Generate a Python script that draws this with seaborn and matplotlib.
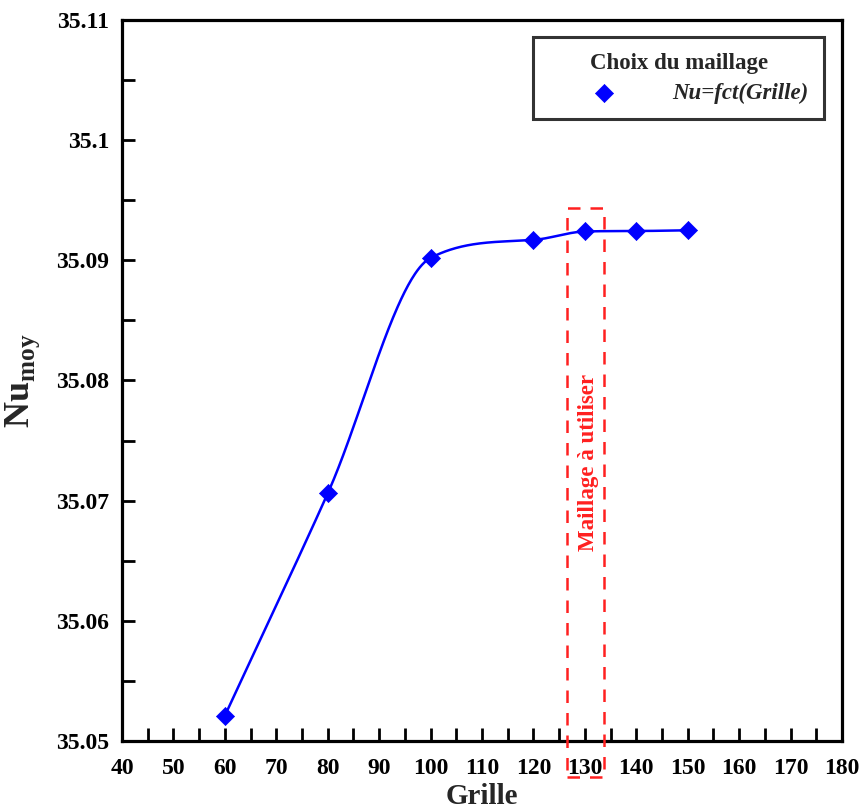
import numpy as np
import pandas as pd
import matplotlib
matplotlib.use("Agg")
import matplotlib.pyplot as plt
from matplotlib.ticker import MultipleLocator, FuncFormatter
from matplotlib.patches import Rectangle
import seaborn as sns

# Mesh sizes and mean Nusselt number
grille = [60, 80, 100, 120, 130, 140, 150]
nu_moy = [35.0521, 35.0706, 35.0902, 35.0917, 35.0924, 35.09244, 35.0925]

x_ticks = [40, 50, 60, 70, 80, 90, 100, 110, 120, 130, 140, 150, 160, 170, 180]
y_ticks = [35.05, 35.06, 35.07, 35.08, 35.09, 35.1, 35.11]

legend_title = "Choix du maillage"
series_label = "Nu=fct(Grille)"
box_label = "Maillage à utiliser"
chosen_range = (126.5, 133.7)


def monotone_spline(x, y, n=400):
    """Fritsch-Carlson monotone cubic Hermite curve through the points."""
    x = np.asarray(x, float)
    y = np.asarray(y, float)
    h = np.diff(x)
    delta = np.diff(y) / h
    m = np.empty_like(y)
    m[0] = delta[0]
    m[-1] = delta[-1]
    m[1:-1] = (delta[:-1] + delta[1:]) / 2
    for k in range(len(delta)):
        if delta[k] == 0:
            m[k] = m[k + 1] = 0.0
            continue
        a = m[k] / delta[k]
        b = m[k + 1] / delta[k]
        s = a * a + b * b
        if s > 9:
            t = 3 / np.sqrt(s)
            m[k] = t * a * delta[k]
            m[k + 1] = t * b * delta[k]
    xs = np.linspace(x[0], x[-1], n)
    idx = np.clip(np.searchsorted(x, xs, side="right") - 1, 0, len(x) - 2)
    t = (xs - x[idx]) / h[idx]
    h00 = 2 * t ** 3 - 3 * t ** 2 + 1
    h10 = t ** 3 - 2 * t ** 2 + t
    h01 = -2 * t ** 3 + 3 * t ** 2
    h11 = t ** 3 - t ** 2
    ys = (h00 * y[idx] + h10 * h[idx] * m[idx]
          + h01 * y[idx + 1] + h11 * h[idx] * m[idx + 1])
    return xs, ys


sns.set_theme(style="white")
plt.rcParams["font.family"] = ["Liberation Serif", "DejaVu Serif"]
plt.rcParams["font.weight"] = "bold"
plt.rcParams["mathtext.fontset"] = "custom"
plt.rcParams["mathtext.rm"] = "Liberation Serif:bold"
plt.rcParams["mathtext.bf"] = "Liberation Serif:bold"

fig = plt.figure(figsize=(8.62, 8.10), dpi=100)
ax = fig.add_axes([0.1415, 0.0852, 0.8353, 0.8901])

points = pd.DataFrame({"Grille": grille, "Nu": nu_moy})
sx, sy = monotone_spline(grille, nu_moy)
curve = pd.DataFrame({"Grille": sx, "Nu": sy})

sns.lineplot(data=curve, x="Grille", y="Nu", ax=ax, color="#0000FF",
             linewidth=1.8, legend=False, zorder=3)
sns.scatterplot(data=points, x="Grille", y="Nu", ax=ax, marker="D",
                color="#0000FF", s=85, edgecolor="#0000FF", linewidth=0.5,
                label=series_label, zorder=4)

ax.set_xlim(40, 180)
ax.set_ylim(35.05, 35.11)
ax.set_xticks(x_ticks)
ax.set_yticks(y_ticks)
ax.xaxis.set_minor_locator(MultipleLocator(5))
ax.yaxis.set_minor_locator(MultipleLocator(0.005))
ax.yaxis.set_major_formatter(FuncFormatter(lambda v, p: f"{v:g}"))
ax.xaxis.set_major_formatter(FuncFormatter(lambda v, p: f"{v:g}"))

ax.tick_params(axis="both", which="both", direction="in", length=9.5,
               width=2.0, color="black", bottom=True, left=True,
               top=False, right=False)
ax.tick_params(axis="both", which="major", labelsize=17, colors="black")
ax.tick_params(axis="x", which="major", pad=12)
ax.tick_params(axis="y", which="major", pad=9)

for sp in ax.spines.values():
    sp.set_visible(True)
    sp.set_color("black")
    sp.set_linewidth(2.3)

ax.set_xlabel("Grille", fontsize=21, fontweight="bold", labelpad=3)
ax.set_ylabel(r"$\mathrm{Nu}_{\mathrm{moy}}$", fontsize=26, labelpad=10)

# Dashed frame around the retained mesh
rect = Rectangle((chosen_range[0], 35.047), chosen_range[1] - chosen_range[0],
                 35.09435 - 35.047, fill=False, edgecolor="#FF2020",
                 linestyle=(0, (5, 4)), linewidth=1.8, clip_on=False, zorder=5)
ax.add_patch(rect)
ax.text(sum(chosen_range) / 2 + 0.7, 35.0732, box_label, rotation=90,
        color="#FF2020", fontsize=16.5, fontweight="bold",
        ha="center", va="center", zorder=6)

leg = ax.legend(title=legend_title, loc="upper right",
                bbox_to_anchor=(0.9755, 0.9765), frameon=True, fancybox=False,
                edgecolor="black", fontsize=16.5, title_fontsize=16.5,
                handlelength=4.8, handletextpad=0.6, borderpad=0.68,
                labelspacing=0.4, markerscale=1.0, borderaxespad=0)
leg.get_frame().set_linewidth(2.2)
leg.get_title().set_fontweight("bold")
for t in leg.get_texts():
    t.set_fontstyle("italic")
    t.set_fontweight("bold")

fig.savefig("out.png", dpi=100)
